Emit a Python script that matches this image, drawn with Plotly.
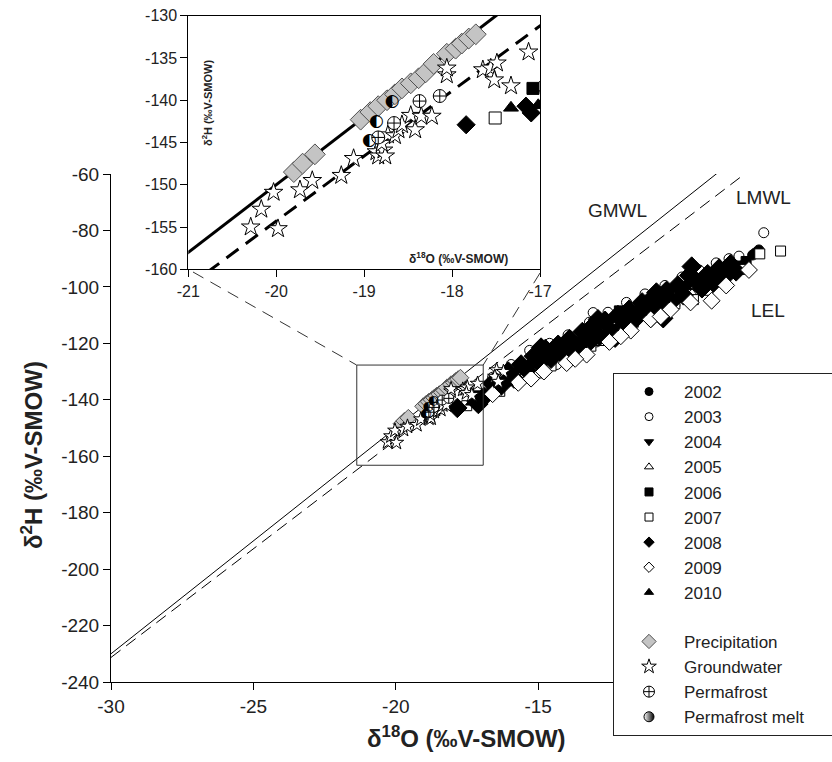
import plotly.graph_objects as go

# reference lines (end points)
line_x = [-30, -5]
gmwl_y = [-230, -30]
lmwl_y = [-231.3, -38.8]

# lake water by sampling year
x_2002 = [-7.47, -7.25, -7.38, -7.80, -8.40, -9.15, -9.85, -10.65, -11.45, -12.35, -13.15, -14.05, -14.85, -15.75, -16.45]
y_2002 = [-88.7, -86.9, -88.0, -91.5, -93.5, -96.0, -99.5, -103.0, -107.5, -111.0, -115.5, -120.5, -124.5, -129.0, -133.5]

x_2003 = [-7.08, -7.95, -8.30, -8.75, -9.35, -9.95, -10.55, -11.25, -11.90, -12.55, -13.20, -13.95, -14.60, -15.30,
          -15.95, -16.60, -10.20, -11.65, -12.95, -14.35, -9.70, -13.07]
y_2003 = [-80.8, -89.1, -90.0, -91.5, -94.0, -96.5, -99.5, -102.5, -105.5, -109.0, -112.5, -117.0, -120.0, -122.5,
          -127.5, -132.0, -106.5, -113.5, -119.5, -127.5, -104.5, -109.1]

x_2004 = [-8.10, -8.90, -9.70, -10.40, -11.10, -11.90, -12.70, -13.40, -14.20, -15.00, -15.80, -16.70]
y_2004 = [-92.0, -96.0, -99.0, -103.5, -106.0, -111.0, -113.5, -118.0, -121.0, -125.5, -130.0, -135.5]

x_2005 = [-16.46, -17.00, -15.55, -14.65, -13.85, -12.75, -11.75, -10.70, -9.60, -8.70, -7.65]
y_2005 = [-136.2, -138.5, -131.0, -127.5, -124.0, -118.5, -113.0, -108.0, -102.5, -97.5, -92.5]

x_2006 = [-17.08, -16.20, -15.20, -14.40, -13.55, -12.60, -11.70, -10.90, -10.00, -9.30, -8.55, -7.70, -12.15, -14.85]
y_2006 = [-138.6, -133.5, -127.5, -122.0, -119.5, -113.0, -109.5, -105.0, -101.0, -97.5, -95.5, -91.0, -108.5, -123.5]

x_2007 = [-17.51, -16.81, -16.35, -15.45, -14.55, -13.60, -12.80, -11.85, -11.00, -10.20, -9.05, -8.16, -7.86, -7.22,
          -6.49, -15.05, -13.15, -12.30, -10.55, -9.55]
y_2007 = [-142.1, -138.3, -137.0, -131.5, -128.0, -123.0, -119.0, -114.5, -110.0, -106.0, -101.2, -95.1, -93.8, -88.3,
          -87.3, -130.5, -121.0, -116.5, -107.5, -104.5]

x_2008 = [-17.84, -17.10, -17.16, -16.90, -16.60, -16.30, -16.05, -15.85, -15.60, -15.40, -15.15, -14.95, -14.75,
          -14.55, -14.30, -14.10, -13.90, -13.70, -13.45, -13.25, -13.05, -12.85, -12.65, -12.45, -12.20, -12.00,
          -11.80, -11.60, -11.35, -11.15, -10.95, -10.75, -10.61, -10.50, -10.30, -10.10, -9.90, -9.61, -9.45,
          -9.25, -9.05, -8.85, -8.65, -8.45, -8.25, -8.05, -13.60, -12.90, -11.95, -10.85, -14.90, -12.30,
          -11.05, -9.70]
y_2008 = [-142.9, -141.5, -140.7, -139.0, -134.0, -135.0, -130.0, -132.5, -127.5, -129.5, -124.5, -127.0, -122.0,
          -125.5, -120.5, -124.0, -118.5, -122.5, -116.0, -120.0, -113.5, -117.5, -112.0, -116.0, -110.0, -113.5,
          -108.0, -111.5, -105.5, -109.5, -103.5, -107.0, -111.1, -101.5, -105.0, -99.5, -103.0, -92.8, -98.0,
          -100.5, -95.5, -98.5, -93.5, -96.5, -92.0, -94.5, -123.5, -111.5, -115.0, -102.0, -121.5, -118.0,
          -111.0, -96.0]

x_2009 = [-16.60, -15.70, -14.80, -14.00, -13.30, -12.50, -11.75, -11.05, -10.35, -9.65, -8.91, -8.40, -7.60,
          -15.25, -13.70, -12.10, -10.70]
y_2009 = [-138.0, -134.0, -130.0, -127.0, -124.0, -119.5, -115.5, -111.5, -108.0, -105.5, -104.9, -99.5, -94.0,
          -132.5, -125.5, -117.5, -110.5]

x_2010 = [-17.33, -17.02, -16.10, -15.35, -14.45, -13.50, -12.40, -11.40, -10.60, -9.80, -8.95, -8.15]
y_2010 = [-140.9, -140.6, -134.0, -129.0, -124.5, -120.5, -114.5, -109.0, -104.5, -100.0, -96.5, -92.5]

# other waters
precip_x = [-19.80, -19.70, -19.56, -19.04, -18.93, -18.84, -18.74, -18.65, -18.57, -18.47, -18.38, -18.30,
            -18.21, -18.06, -17.96, -17.89, -17.81, -17.73]
precip_y = [-148.5, -147.5, -146.4, -142.3, -141.4, -140.7, -140.0, -139.3, -138.6, -138.0, -137.4, -136.7,
            -135.7, -134.5, -133.9, -133.3, -132.7, -132.2]

ground_x = [-20.29, -20.17, -20.03, -19.98, -19.73, -19.59, -19.26, -19.12, -18.86, -18.84, -18.78, -18.76,
            -18.80, -18.73, -18.65, -18.61, -18.57, -18.47, -18.42, -18.35, -18.23, -18.06, -18.06, -17.65,
            -17.56, -17.49, -17.52, -17.33, -17.13, -16.46, -16.22, -16.52, -16.40]
ground_y = [-155.0, -152.9, -150.9, -155.2, -150.6, -149.5, -148.9, -146.9, -146.1, -146.6, -145.9, -146.6,
            -145.1, -144.1, -144.2, -143.5, -142.9, -141.8, -143.5, -141.9, -141.9, -137.0, -136.2, -136.4,
            -136.2, -135.6, -137.6, -138.3, -134.3, -129.5, -130.1, -131.8, -133.6]

perma_x = [-18.37, -18.14, -18.66, -18.84]
perma_y = [-140.1, -139.5, -142.7, -144.4]

melt_x = [-18.68, -18.86, -18.94]
melt_y = [-140.2, -142.5, -144.8]

# figure geometry (pixels)
W, H = 832, 762
L, R, T, B = 111, 9, 10, 80
PW, PH = W - L - R, H - T - B


def fx(px):
    return (px - L) / PW


def fy(py):
    return (T + PH - py) / PH


FONT = "Liberation Sans, Arial, sans-serif"
INK = '#222'

series = [
    ('2002', x_2002, y_2002, 'circle', 'black', 10, 12),
    ('2003', x_2003, y_2003, 'circle', 'white', 10, 12),
    ('2004', x_2004, y_2004, 'triangle-down', 'black', 11, 13),
    ('2005', x_2005, y_2005, 'triangle-up', 'white', 11, 13),
    ('2006', x_2006, y_2006, 'square', 'black', 10, 12),
    ('2007', x_2007, y_2007, 'square', 'white', 10, 12),
    ('2008', x_2008, y_2008, 'diamond', 'black', 15, 14),
    ('2009', x_2009, y_2009, 'diamond', 'white', 13, 14),
    ('2010', x_2010, y_2010, 'triangle-up', 'black', 11, 13),
    ('Precipitation', precip_x, precip_y, 'diamond', '#c4c4c4', 13, 16),
    ('Groundwater', ground_x, ground_y, 'star', 'white', 11, 14),
    ('Permafrost', perma_x, perma_y, 'circle-cross', 'white', 10, 13),
]

fig = go.Figure()

# lines: main and inset
fig.add_trace(go.Scatter(x=line_x, y=gmwl_y, mode='lines', line=dict(color='black', width=1),
                         showlegend=False, xaxis='x', yaxis='y'))
fig.add_trace(go.Scatter(x=line_x, y=lmwl_y, mode='lines', line=dict(color='black', width=1, dash='12px,7px'),
                         showlegend=False, xaxis='x', yaxis='y'))
fig.add_trace(go.Scatter(x=line_x, y=gmwl_y, mode='lines', line=dict(color='black', width=3),
                         showlegend=False, xaxis='x2', yaxis='y2'))
fig.add_trace(go.Scatter(x=line_x, y=lmwl_y, mode='lines', line=dict(color='black', width=3, dash='15px,9px'),
                         showlegend=False, xaxis='x2', yaxis='y2'))

for name, xs, ys, sym, fill, s_main, s_in in series:
    edge = '#505050' if name == 'Precipitation' else 'black'
    for xa, ya, s in [('x', 'y', s_main), ('x2', 'y2', s_in)]:
        fig.add_trace(go.Scatter(x=xs, y=ys, mode='markers', showlegend=False, xaxis=xa, yaxis=ya,
                                 marker=dict(symbol=sym, color=fill, size=s, line=dict(color=edge, width=1))))

# permafrost melt: half-filled circle glyph
for xa, ya, s in [('x', 'y', 13), ('x2', 'y2', 17)]:
    fig.add_trace(go.Scatter(x=melt_x, y=melt_y, mode='text', text=['\u25d0'] * len(melt_x),
                             textposition='middle center', showlegend=False, xaxis=xa, yaxis=ya,
                             textfont=dict(size=s, family='DejaVu Sans', color='black')))

# legend entries (small symbols, as in the key)
legend_items = [(s[0], s[3], s[4]) for s in series] + [('Permafrost melt' + '\u00a0' * 16, 'circle', 'white')]
for i, (name, sym, fill) in enumerate(legend_items):
    mk = dict(symbol=sym, color=fill, size=8 if i < 9 else 11,
              line=dict(color='#505050' if name == 'Precipitation' else 'black', width=1))
    if name.startswith('Permafrost melt'):
        mk['size'] = 10
        mk['gradient'] = dict(type='horizontal', color='black')
    fig.add_trace(go.Scatter(x=[None], y=[None], mode='markers', marker=mk, name=name,
                             legendgroup='a' if i < 9 else 'b', xaxis='x', yaxis='y'))

ax = dict(showline=True, linecolor='black', linewidth=1, ticks='outside', ticklen=7, tickcolor='black',
          showgrid=False, zeroline=False, tickfont=dict(size=19, family=FONT, color=INK))
inset_font = dict(size=16, family=FONT, color=INK)

fig.update_layout(
    width=W, height=H,
    margin=dict(l=L, r=R, t=T, b=B, autoexpand=False),
    paper_bgcolor='white', plot_bgcolor='white',
    font=dict(family=FONT, size=19, color=INK),
    xaxis=dict(ax, domain=[0, 1], anchor='y', range=[-30, -5],
               tickvals=[-30, -25, -20, -15], ticktext=['-30', '-25', '-20', '-15']),
    yaxis=dict(ax, domain=[0, fy(174)], anchor='x', range=[-240, -60],
               tickvals=list(range(-240, -59, 20)), ticktext=[str(v) for v in range(-240, -59, 20)]),
    xaxis2=dict(ax, domain=[fx(188.3), fx(540)], anchor='y2', range=[-21, -17], mirror=True,
                tickvals=[-21, -20, -19, -18, -17], ticktext=['-21', '-20', '-19', '-18', '-17'],
                tickfont=inset_font),
    yaxis2=dict(ax, domain=[fy(269.3), fy(15.7)], anchor='x2', range=[-160, -130], mirror=True,
                tickvals=list(range(-160, -129, 5)), ticktext=[str(v) for v in range(-160, -129, 5)],
                tickfont=inset_font),
    legend=dict(x=fx(613), y=fy(373), xanchor='left', yanchor='top', bgcolor='white',
                bordercolor=INK, borderwidth=1, font=dict(size=17, family=FONT, color=INK),
                tracegroupgap=24, itemwidth=60),
)

# box marking the zoomed region and connectors to the inset
bx0, bx1, by0, by1 = -21.37, -16.93, -163.2, -127.7


def px_x(v):
    return fx(110.7 + (v + 30) * 28.5)


def px_y(v):
    return fy(174 + (-60 - v) * 2.822)


fig.add_shape(type='rect', xref='x', yref='y', x0=bx0, x1=bx1, y0=by0, y1=by1,
              line=dict(color='#333', width=1))
fig.add_shape(type='line', xref='paper', yref='paper', x0=fx(193), y0=fy(272),
              x1=px_x(bx0), y1=px_y(by1), line=dict(color='#333', width=1, dash='12px,8px'))
fig.add_shape(type='line', xref='paper', yref='paper', x0=fx(540), y0=fy(273),
              x1=px_x(bx1), y1=px_y(by1), line=dict(color='#333', width=1, dash='12px,8px'))

# labels
for txt, xv, yv in [('GMWL', -12.21, -72.8), ('LMWL', -7.08, -68.5), ('LEL', -6.94, -108.2)]:
    fig.add_annotation(x=xv, y=yv, xref='x', yref='y', text=txt, showarrow=False,
                       xanchor='center', yanchor='middle', font=dict(size=19, family=FONT, color=INK))


def title(text, px, py, size, angle=0):
    fig.add_annotation(x=fx(px), y=fy(py), xref='paper', yref='paper', showarrow=False, textangle=angle,
                       xanchor='center', yanchor='middle', text=text,
                       font=dict(size=size, family=FONT, color=INK))


title('<b>δ<sup>18</sup>O (‰V-SMOW)</b>', 466, 737, 24)
title('<b>δ<sup>2</sup>H (‰V-SMOW)</b>', 32, 455, 24, -90)
title('<b>δ<sup>2</sup>H (‰V-SMOW)</b>', 207, 103, 11, -90)
title('<b>δ<sup>18</sup>O (‰V-SMOW)</b>', 458, 258, 12)

fig.write_html("out.html", config={'displayModeBar': False},
               post_script="document.body.style.margin='0px';")
